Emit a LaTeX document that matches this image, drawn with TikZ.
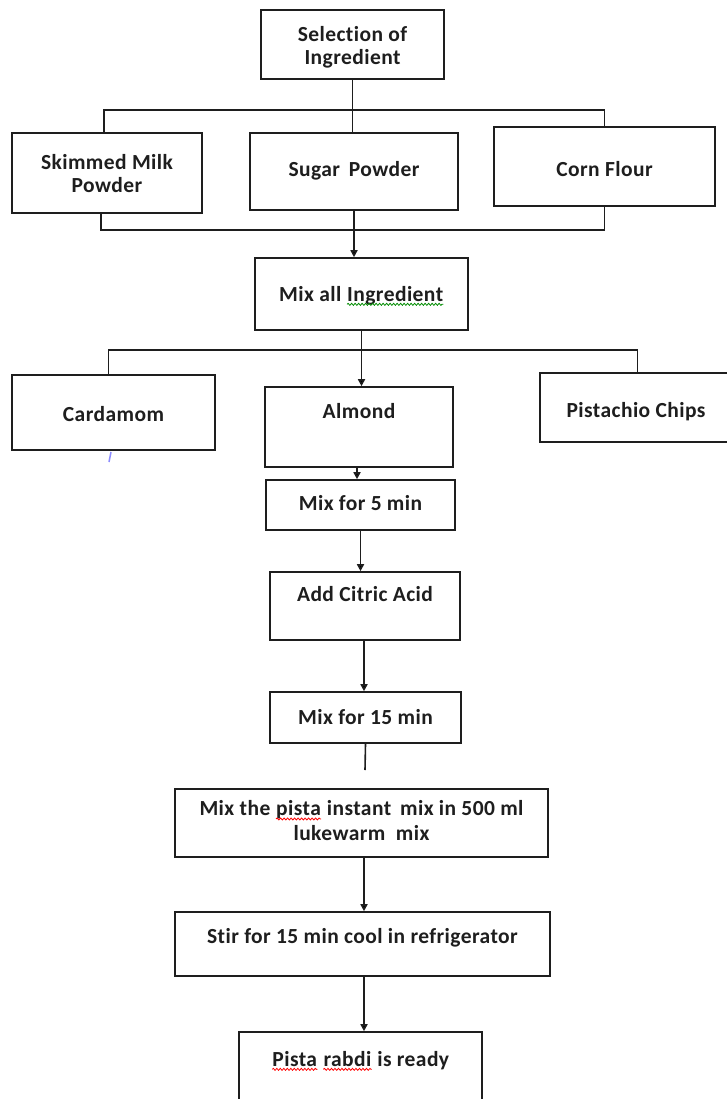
\documentclass[tikz,border=0pt]{standalone}
\usepackage{fontspec}
\setmainfont[LetterSpace=2.0,Ligatures=NoCommon]{Carlito}
\usetikzlibrary{arrows.meta,decorations.pathmorphing}
\definecolor{ink}{HTML}{1E1E1E}
\newcommand{\squig}[2]{\tikz[baseline=(w.base),x=1pt,y=1pt]{%
  \node[draw=none,fill=none,minimum width=0pt,minimum height=0pt,inner sep=0pt,text=ink] (w) {#2};
  \draw[draw=#1,line width=0.8pt,decorate,decoration={snake,amplitude=1pt,segment length=3.5pt}]
    ([yshift=-3pt]w.base west) -- ([yshift=-3pt]w.base east);}}
\tikzset{
  box/.style={draw=ink, line width=1.6pt, rectangle, inner sep=0pt, align=center,
              font=\bfseries\fontsize{21.5}{23}\selectfont, text=ink},
  txt/.style={font=\bfseries\fontsize{21.5}{23}\selectfont, text=ink, align=center, inner sep=0pt},
  conn/.style={draw=ink, line width=1.6pt},
  arr/.style={conn, -{Triangle[width=7pt,length=7pt]}}
}
\begin{document}
\begin{tikzpicture}[x=1pt,y=-1pt]
\useasboundingbox (0,0) rectangle (727,1099);
\clip (0,0) rectangle (727,1099);
\fill[white] (0,0) rectangle (727,1099);

% row 1
\node[box, minimum width=183pt, minimum height=69pt] (sel) at (352.5,44.5) {};
\node[txt] at (352.5,47) {Selection of\\Ingredient};
\node[box, minimum width=190pt, minimum height=80pt] (skim) at (107,173) {};
\node[txt] at (107,173.5) {Skimmed Milk\\Powder};
\node[box, minimum width=208pt, minimum height=77pt] (sugar) at (354,171.5) {};
\node[txt] at (354,171) {Sugar\ \,Powder};
\node[box, minimum width=221pt, minimum height=79pt] (corn) at (604.5,166.5) {};
\node[txt] at (604.5,169) {Corn Flour};

% mix all
\node[box, minimum width=213pt, minimum height=72pt] (mixall) at (361.5,294) {};
\node[txt] at (361.5,296) {Mix all \squig{green!55!black}{Ingredient}};

% row 2
\node[box, minimum width=203pt, minimum height=75pt] (card) at (113.5,412.5) {};
\node[txt] at (113.5,414) {Cardamom};
\node[box, minimum width=188pt, minimum height=80pt] (alm) at (359,427) {};
\node[txt] at (359,411) {Almond};
\node[box, minimum width=195pt, minimum height=69pt] (pist) at (637.5,407.5) {};
\node[txt] at (636,412) {Pistachio Chips};

% chain
\node[box, minimum width=189pt, minimum height=50pt] (mixa) at (360.5,505) {};
\node[txt] at (360.5,503) {Mix for 5 min};
\node[box, minimum width=190pt, minimum height=68pt] (cit) at (365,606) {};
\node[txt] at (365,594) {Add Citric Acid};
\node[box, minimum width=191pt, minimum height=51pt] (mixb) at (365.5,717.5) {};
\node[txt] at (365.5,717) {Mix for 15 min};
\node[box, minimum width=373pt, minimum height=68pt] (pista) at (361.5,823) {};
\node[txt, font=\bfseries\fontsize{21.5}{25}\selectfont] at (361.5,821) {Mix the \squig{red}{pista} instant\ \,mix in 500 ml\\lukewarm\ \ mix};
\node[box, minimum width=375pt, minimum height=64pt] (stir) at (362.5,944) {};
\node[txt] at (362.5,938) {Stir for 15 min cool in refrigerator};
\node[box, minimum width=243pt, minimum height=90pt] (ready) at (360.5,1077) {};
\node[txt] at (360.5,1061) {\squig{red}{Pista} \squig{red}{rabdi} is ready};

% connectors top
\coordinate (bar1) at (352.5,110);
\draw[conn] (sel.south) -- (bar1);
\draw[conn] ([xshift=-3pt]skim.north) |- (bar1) -| (corn.north);
\draw[conn] (bar1) -- (bar1 |- sugar.north);

\coordinate (bar2) at (353,230);
\draw[conn] ([xshift=-6pt]skim.south) |- (bar2) -| (corn.south);
\draw[arr] (sugar.south) -- (sugar.south |- mixall.north);

\coordinate (bar3) at (361,350);
\draw[conn] ([xshift=-5pt]card.north) |- (bar3) -| (pist.north);
\draw[arr] (mixall.south) -- (mixall.south |- alm.north);

\draw[arr] ([xshift=-2pt]alm.south) -- ([xshift=-2pt]alm.south |- mixa.north);
\draw[arr] (mixa.south) -- (mixa.south |- cit.north);
\draw[arr] ([xshift=-1pt]cit.south) -- ([xshift=-1pt]cit.south |- mixb.north);
\coordinate (gapend) at (365,770);
\draw[conn] (mixb.south) -- (gapend);
\draw[arr] ([xshift=2.5pt]pista.south) -- ([xshift=2.5pt]pista.south |- stir.north);
\draw[arr] ([xshift=1.5pt]stir.south) -- ([xshift=1.5pt]stir.south |- ready.north);

% stray blue mark
\draw[blue!45, line width=1.5pt] (111,452) -- (109,462);
\end{tikzpicture}
\end{document}
